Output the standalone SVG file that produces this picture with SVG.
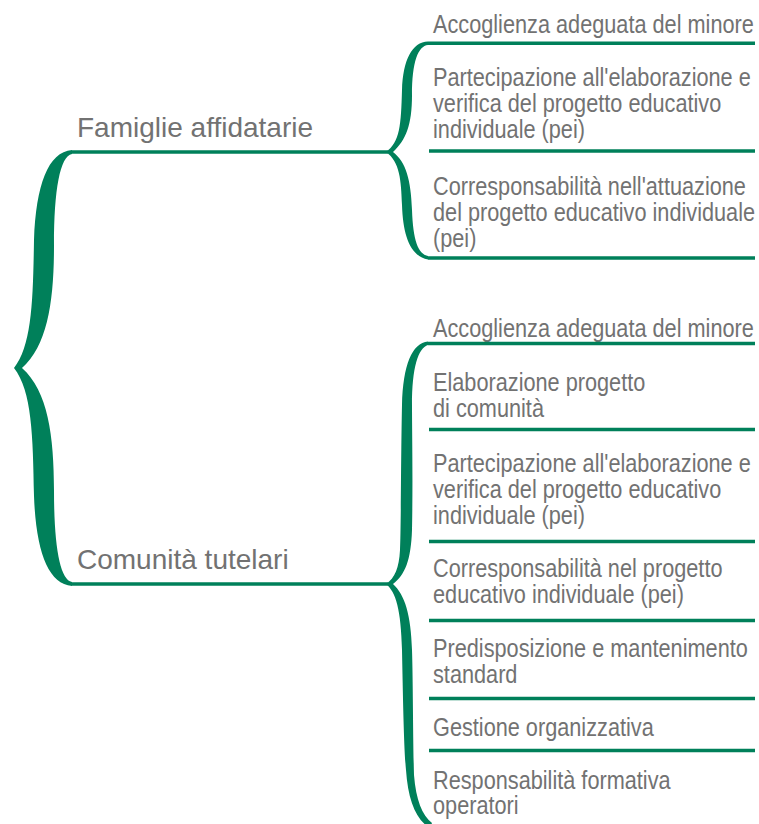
<svg xmlns="http://www.w3.org/2000/svg" width="759" height="824" viewBox="0 0 759 824">
<style>
.item{font-family:"Liberation Sans",Arial,sans-serif;font-size:26px;fill:#727272}
.head{font-family:"Liberation Sans",Arial,sans-serif;font-size:28px;fill:#727272}
.rule{stroke:#00805a;stroke-width:3.5;fill:none}
.brace{fill:#00805a;stroke:none}
</style>
<rect width="759" height="824" fill="#ffffff"/>
<g id="connectors">
<path class="brace" d="M72,150 C48,152 36,185 34,240 C33,300 32,345 14,368 C32,391 33,436 34,496 C36,551 48,584 72,586 L72,582 C60,580 54,546 54,491 C54,436 48,391 22,368 C48,345 54,300 54,245 C54,190 60,156 72,154 Z"/>
<path class="brace" d="M428,41.5 C412,42 403,60 402,90 C401,125 400,142 386,152 C400,162 401,180 402,205 C403,235 410,256 428,259.5 L428,256 C418,254 413,240 412,210 C411,180 406,162 393,152 C406,140 412,125 412,95 C412,62 418,46 428,45 Z"/>
<path class="brace" d="M428,341.5 C412,343 403,365 402,405 C401,450 401,530 400,550 C399,568 395,578 386,584 C396,592 401,610 402,650 C403,700 404,750 406,770 C408,800 416,820 430,828 L432,823 C422,815 416,800 414,775 C413,740 413,680 412,650 C411,615 405,595 393,584 C405,575 411,560 412,530 C413,480 412,430 412,405 C412,368 418,348 428,345 Z"/>
<line class="rule" x1="72" y1="152" x2="388" y2="152"/>
<line class="rule" x1="72" y1="584" x2="388" y2="584"/>
</g>
<g id="famiglie"><text class="head" x="77" y="137">Famiglie affidatarie</text></g>
<g id="comunita"><text class="head" x="77" y="569">Comunità tutelari</text></g>

<g id="f1"><text class="item" transform="translate(433,33) scale(0.835,1)">Accoglienza adeguata del minore</text><line class="rule" x1="428" y1="43.3" x2="755" y2="43.3"/></g>
<g id="f2"><text class="item" transform="translate(433,86) scale(0.835,1)">Partecipazione all'elaborazione e</text><text class="item" transform="translate(433,112) scale(0.835,1)">verifica del progetto educativo</text><text class="item" transform="translate(433,138) scale(0.835,1)">individuale (pei)</text><line class="rule" x1="429" y1="151" x2="755" y2="151"/></g>
<g id="f3"><text class="item" transform="translate(433,195) scale(0.835,1)">Corresponsabilità nell'attuazione</text><text class="item" transform="translate(433,221) scale(0.835,1)">del progetto educativo individuale</text><text class="item" transform="translate(433,247) scale(0.835,1)">(pei)</text><line class="rule" x1="428" y1="258" x2="755" y2="258"/></g>

<g id="c1"><text class="item" transform="translate(433,336.5) scale(0.835,1)">Accoglienza adeguata del minore</text><line class="rule" x1="428" y1="343.5" x2="755" y2="343.5"/></g>
<g id="c2"><text class="item" transform="translate(433,391) scale(0.835,1)">Elaborazione progetto</text><text class="item" transform="translate(433,416.5) scale(0.835,1)">di comunità</text><line class="rule" x1="429" y1="429.5" x2="755" y2="429.5"/></g>
<g id="c3"><text class="item" transform="translate(433,472) scale(0.835,1)">Partecipazione all'elaborazione e</text><text class="item" transform="translate(433,498) scale(0.835,1)">verifica del progetto educativo</text><text class="item" transform="translate(433,524) scale(0.835,1)">individuale (pei)</text><line class="rule" x1="429" y1="541.5" x2="755" y2="541.5"/></g>
<g id="c4"><text class="item" transform="translate(433,577) scale(0.835,1)">Corresponsabilità nel progetto</text><text class="item" transform="translate(433,603) scale(0.835,1)">educativo individuale (pei)</text><line class="rule" x1="429" y1="620.5" x2="755" y2="620.5"/></g>
<g id="c5"><text class="item" transform="translate(433,656.5) scale(0.835,1)">Predisposizione e mantenimento</text><text class="item" transform="translate(433,682.5) scale(0.835,1)">standard</text><line class="rule" x1="429" y1="698.5" x2="755" y2="698.5"/></g>
<g id="c6"><text class="item" transform="translate(433,735.5) scale(0.835,1)">Gestione organizzativa</text><line class="rule" x1="429" y1="750.5" x2="755" y2="750.5"/></g>
<g id="c7"><text class="item" transform="translate(433,788.5) scale(0.835,1)">Responsabilità formativa</text><text class="item" transform="translate(433,814) scale(0.835,1)">operatori</text></g>
</svg>
